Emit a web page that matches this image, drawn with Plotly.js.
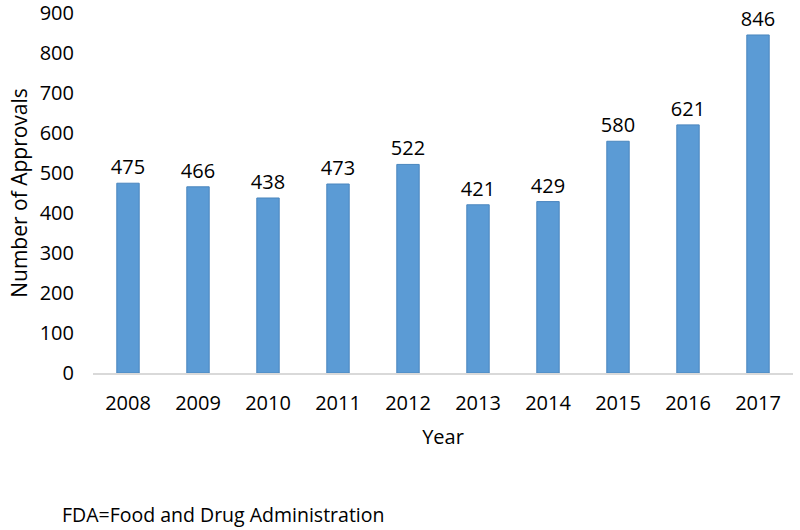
<!DOCTYPE html>
<html>
<head>
<meta charset="utf-8">
<script src="https://cdn.plot.ly/plotly-3.0.1.min.js"></script>
<style>html,body{margin:0;padding:0;background:#fff;}#chart{width:800px;height:530px;}</style>
</head>
<body>
<div id="chart"></div>
<script>
const years = ['2008','2009','2010','2011','2012','2013','2014','2015','2016','2017'];
const approvals = [475, 466, 438, 473, 522, 421, 429, 580, 621, 846];
const yTicks = [0,100,200,300,400,500,600,700,800,900];
const footnote = 'FDA=Food and Drug Administration';
const FONT = 'Open Sans, Noto Sans, sans-serif';

const trace = {
  type: 'bar',
  x: years,
  y: approvals,
  text: approvals.map(String),
  textposition: 'outside',
  constraintext: 'none',
  textfont: {family: FONT, size: 20, color: '#000'},
  cliponaxis: false,
  marker: {color: '#5B9BD5', line: {color: '#4A86BE', width: 1}},
  hoverinfo: 'none'
};

const layout = {
  width: 800, height: 530,
  margin: {l: 93, r: 7, t: 13, b: 157},
  paper_bgcolor: '#fff', plot_bgcolor: '#fff',
  bargap: 0.68,
  showlegend: false,
  font: {family: FONT, size: 20, color: '#000'},
  xaxis: {
    type: 'category',
    showline: true, linecolor: '#D9D9D9', linewidth: 1.5,
    ticks: '', ticklabelstandoff: 11,
    tickfont: {family: FONT, size: 20, color: '#000'},
    title: {text: 'Year', font: {family: FONT, size: 20, color: '#000'}, standoff: 15}
  },
  yaxis: {
    range: [0, 901],
    tickvals: yTicks,
    ticklabeloverflow: 'allow',
    showgrid: false, zeroline: false, showline: false,
    ticks: '', ticklabelstandoff: 18,
    tickfont: {family: FONT, size: 20, color: '#000'},
    title: {text: 'Number of Approvals', font: {family: FONT, size: 21, color: '#000'}, standoff: 6}
  },
  annotations: [{
    text: footnote, xref: 'paper', yref: 'paper',
    x: -0.047, y: -0.392, xanchor: 'left', yanchor: 'middle',
    showarrow: false, font: {family: FONT, size: 19.5, color: '#000'}
  }]
};

Plotly.newPlot('chart', [trace], layout, {displayModeBar: false, staticPlot: true});
</script>
</body>
</html>
